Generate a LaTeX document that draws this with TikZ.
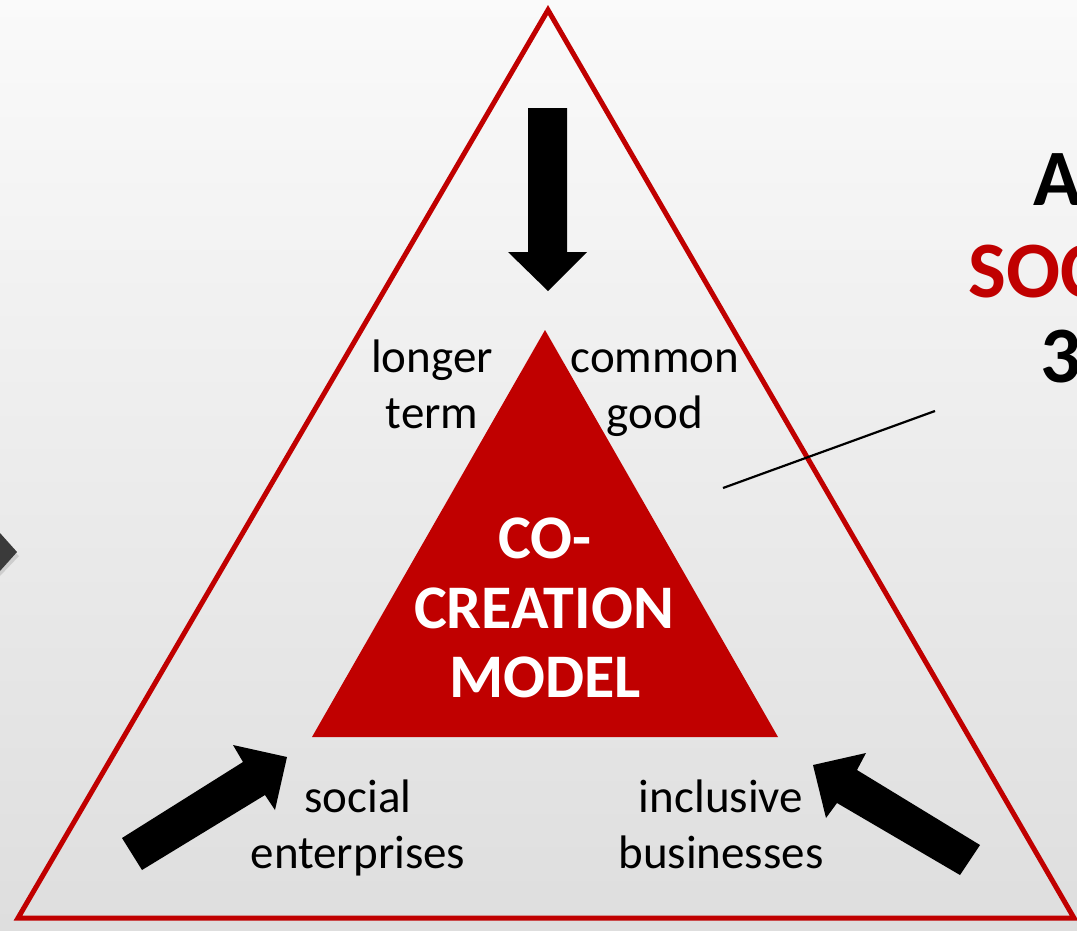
\documentclass[tikz,border=0pt]{standalone}
\usepackage{fontspec}
\setmainfont{Carlito}
\definecolor{cred}{HTML}{C00000}
\definecolor{cdark}{HTML}{3A3A3A}
\definecolor{bgtop}{HTML}{FAFAFA}
\definecolor{bgbot}{HTML}{DEDEDE}
\tikzset{
  lbl/.style={font=\fontsize{47}{56}\selectfont, text=black, align=center, inner sep=0pt, anchor=base},
  core/.style={font=\fontsize{62}{70}\selectfont\bfseries, text=white, align=center, inner sep=0pt, anchor=base},
  side/.style={font=\fontsize{80}{92}\selectfont\bfseries, inner sep=0pt, anchor=base west},
  blockarrow/.style={fill=black, draw=none},
  outertri/.style={draw=cred, line width=5pt, line join=miter},
  innertri/.style={fill=cred, draw=none},
  thinline/.style={draw=black, line width=2.2pt}
}
\begin{document}
\begin{tikzpicture}[x=1pt,y=-1pt]
\useasboundingbox (0,0) rectangle (1077,930);
\clip (0,0) rectangle (1077,930);
% background
\shade[top color=bgtop, bottom color=bgbot] (0,0) rectangle (1077,930);
% left chevron (cropped)
\fill[black!30, opacity=0.5] (0,537) -- (19,556) -- (0,576) -- cycle;
\fill[cdark] (0,533) -- (17,552) -- (0,571) -- cycle;
% right side text (cropped at the edge, as in the reference)
\node[side, text=black] (ta) at (1033,205) {A};
\node[side, text=cred] (tsoc) at (968,297) {SOC};
\node[side, text=black] (t3) at (1040,382) {3};
% outer triangle
\coordinate (oa) at (548,10);
\coordinate (ol) at (18,918);
\coordinate (or) at (1074,918);
\draw[outertri] (oa) -- (ol) -- (or) -- cycle;
% inner triangle
\coordinate (ia) at (545,330);
\coordinate (il) at (312,737);
\coordinate (ir) at (778,737);
\fill[innertri] (ia) -- (il) -- (ir) -- cycle;
% core text
\node[core] (co) at (545,558) {CO-};
\node[core] (creation) at (544,628) {CREATION};
\node[core] (model) at (545,697) {MODEL};
% labels
\node[lbl] (longer) at (432,372) {longer};
\node[lbl] (term) at (432,428) {term};
\node[lbl] (common) at (655,372) {common};
\node[lbl] (good) at (655,428) {good};
\node[lbl] (social) at (358,812) {social};
\node[lbl] (enterprises) at (358,868) {enterprises};
\node[lbl] (inclusive) at (721,812) {inclusive};
\node[lbl] (businesses) at (721,868) {businesses};
% down arrow
\fill[blockarrow] (528,108) -- (567,108) -- (567,252) -- (587,252) -- (548,291) -- (508,252) -- (528,252) -- cycle;
% lower-left arrow
\fill[blockarrow] (122,838) -- (243,762) -- (233,745) -- (287,757) -- (275,810) -- (265,795) -- (142,870) -- cycle;
% lower-right arrow
\fill[blockarrow] (980,845) -- (857,770) -- (866,753) -- (813,765) -- (826,818) -- (837,803) -- (960,875) -- cycle;
% thin line
\coordinate (la) at (723,488);
\coordinate (lb) at (935,411);
\draw[thinline] (la) -- (lb);
\end{tikzpicture}
\end{document}
